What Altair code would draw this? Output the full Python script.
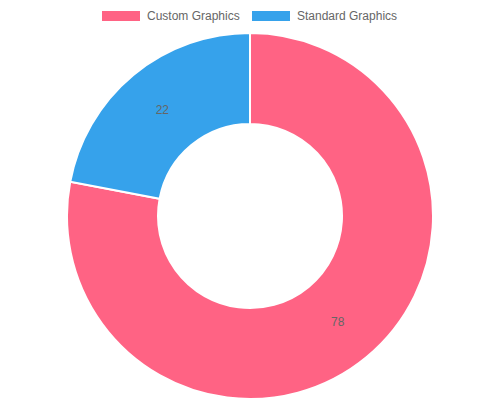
import altair as alt
import pandas as pd

categories = ["Custom Graphics", "Standard Graphics"]
values = [78, 22]
colors = ["#FF6384", "#36A2EB"]
order_idx = [0, 1]

df = pd.DataFrame({"cat": categories, "value": values, "idx": order_idx})

FONT = "Liberation Sans, Arial, Helvetica, sans-serif"
CX, CY = 242, 208

base = alt.Chart(df).encode(
    theta=alt.Theta("value:Q", stack=True),
    order=alt.Order("idx:Q", sort="ascending"),
)

arcs = base.mark_arc(
    innerRadius=92, outerRadius=183, stroke="white", strokeWidth=2
).encode(
    x=alt.value(CX),
    y=alt.value(CY),
    color=alt.Color(
        "cat:N",
        scale=alt.Scale(domain=categories, range=colors),
        legend=alt.Legend(
            title=None,
            orient="none",
            legendX=94,
            legendY=-11,
            direction="horizontal",
            symbolType="M-1,-0.263L1,-0.263L1,0.263L-1,0.263Z",
            symbolSize=1444,
            symbolStrokeWidth=0,
            symbolOpacity=1,
            labelFont=FONT,
            labelFontSize=12,
            labelColor="#666666",
            labelOffset=7,
            columnPadding=12,
        ),
    ),
)

labels = base.mark_text(
    radius=137.5, font=FONT, fontSize=12, color="#666666"
).encode(
    x=alt.value(CX),
    y=alt.value(CY),
    text=alt.Text("value:Q"),
)

chart = (
    alt.layer(arcs, labels)
    .properties(width=484, height=392, autosize=alt.AutoSizeParams(type="none"), padding=0)
    .configure_view(stroke=None)
)

chart.save("out.html", embed_options={"renderer": "svg", "actions": False})
